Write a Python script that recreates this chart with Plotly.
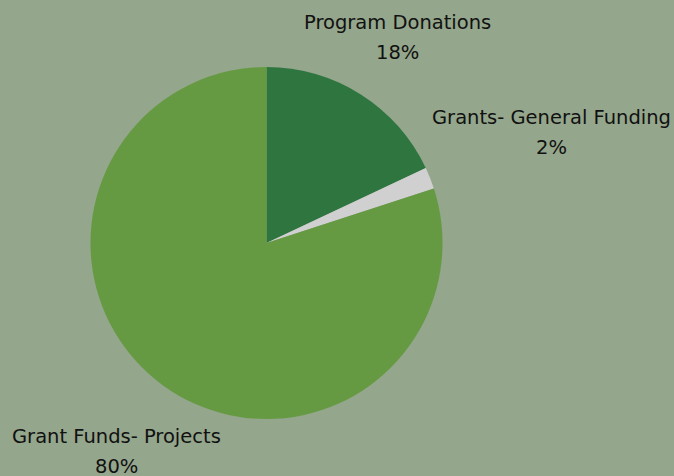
import plotly.graph_objects as go

labels = ["Program Donations", "Grants- General Funding", "Grant Funds- Projects"]
values = [18, 2, 80]
colors = ["#2E7540", "#D0D0D0", "#659A42"]
bg = "#94A68B"

W, H = 674, 476
cx, cy, r = 266.5, 243, 176

fig = go.Figure(go.Pie(
    labels=labels, values=values, sort=False, direction="clockwise",
    rotation=0, textinfo="none", hoverinfo="label+percent",
    marker=dict(colors=colors, line=dict(width=0)),
    domain=dict(x=[(cx - r) / W, (cx + r) / W],
                y=[(H - cy - r) / H, (H - cy + r) / H]),
    showlegend=False,
))

# label positions (pixel centers: x, name y, percent y)
label_pos = [(397, 22, 52), (551, 117, 147), (116, 436, 466)]
total = sum(values)
font = dict(family="DejaVu Sans", size=19.5, color="#111111")
for lab, val, (x, y1, y2) in zip(labels, values, label_pos):
    fig.add_annotation(x=x / W, y=1 - y1 / H, xref="paper", yref="paper",
                       text=lab, showarrow=False, font=font,
                       xanchor="center", yanchor="middle")
    fig.add_annotation(x=x / W, y=1 - y2 / H, xref="paper", yref="paper",
                       text=f"{round(val / total * 100)}%", showarrow=False,
                       font=font, xanchor="center", yanchor="middle")

fig.update_layout(width=W, height=H, margin=dict(l=0, r=0, t=0, b=0),
                  paper_bgcolor=bg, plot_bgcolor=bg)
fig.write_html("out.html", config={"displayModeBar": False},
               post_script="document.body.style.margin='0';"
                           "document.body.style.background='" + bg + "';")
